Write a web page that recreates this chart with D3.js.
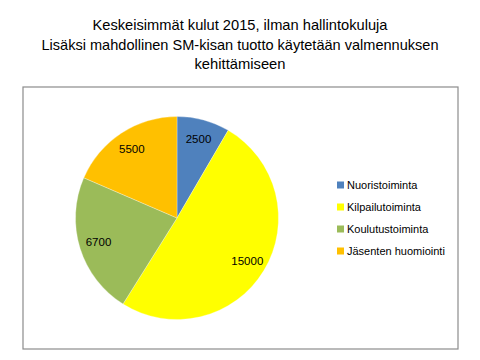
<!DOCTYPE html>
<html><head><meta charset="utf-8">
<script src="https://cdn.jsdelivr.net/npm/d3@7"></script>
<style>body{margin:0;background:#fff}svg{display:block}</style>
</head><body>
<script>
const titleLines = ["Keskeisimmät kulut 2015, ilman hallintokuluja",
  "Lisäksi mahdollinen SM-kisan tuotto käytetään valmennuksen",
  "kehittämiseen"];
const categories = ["Nuoristoiminta","Kilpailutoiminta","Koulutustoiminta","Jäsenten huomiointi"];
const values = [2500, 15000, 6700, 5500];
const colors = ["#4F81BD","#FFFF00","#9BBB59","#FFC000"];

const W = 480, H = 360;
const svg = d3.select("body").append("svg").attr("width", W).attr("height", H);
const font = "'Liberation Sans', Arial, sans-serif";

svg.append("rect").attr("x", 23).attr("y", 87).attr("width", 435).attr("height", 262)
  .attr("fill", "#fff").attr("stroke", "#8c8c8c").attr("stroke-width", 1.2);

const tLen = [295, 397, 91];
svg.selectAll("text.title").data(titleLines).enter().append("text")
  .attr("class","title")
  .attr("x", 240).attr("y", (d,i) => 30 + i*19.5)
  .attr("text-anchor","middle")
  .attr("font-family", font).attr("font-size", 15).attr("fill","#000")
  .attr("textLength", (d,i)=>tLen[i]).attr("lengthAdjust","spacingAndGlyphs")
  .text(d => d);

const cx = 177, cy = 218, R = 101.5;
const pie = d3.pie().sort(null).value(d => d)(values);
const arc = d3.arc().innerRadius(0).outerRadius(R);
const labelArc = d3.arc().innerRadius(R*0.81).outerRadius(R*0.81);
const g = svg.append("g").attr("transform", `translate(${cx},${cy})`);
g.selectAll("path").data(pie).enter().append("path")
  .attr("d", arc).attr("fill", (d,i) => colors[i])
  .attr("stroke", "#fff").attr("stroke-width", 0.3);
g.selectAll("text").data(pie).enter().append("text")
  .attr("transform", d => `translate(${labelArc.centroid(d)})`)
  .attr("text-anchor","middle").attr("dy","0.35em")
  .attr("font-family", font).attr("font-size", 11.5).attr("fill","#000")
  .text(d => d.data);

const y = d3.scalePoint().domain(categories).range([185, 251]);
const leg = svg.append("g");
leg.selectAll("rect").data(categories).enter().append("rect")
  .attr("x", 337).attr("y", d => y(d) - 3.5).attr("width", 7).attr("height", 7)
  .attr("fill", (d,i) => colors[i]);
leg.selectAll("text").data(categories).enter().append("text")
  .attr("x", 347).attr("y", d => y(d)).attr("dy","0.35em")
  .attr("font-family", font).attr("font-size", 11).attr("fill","#000")
  .text(d => d);
</script>
</body></html>
